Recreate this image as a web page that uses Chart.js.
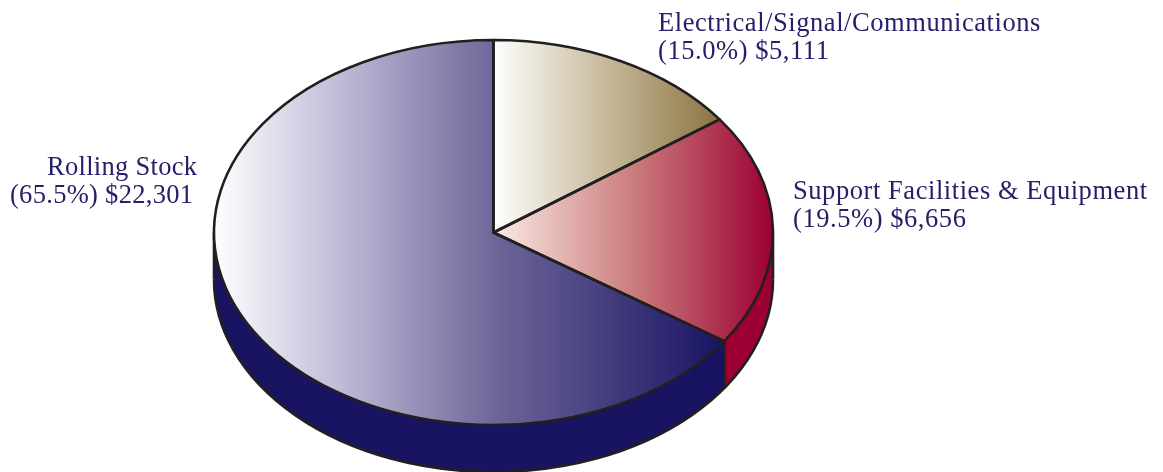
<!DOCTYPE html>
<html>
<head>
<meta charset="utf-8">
<title>Pie</title>
<style>
  html, body { margin: 0; padding: 0; background: #fff; }
  canvas { display: block; }
</style>
<script src="https://cdn.jsdelivr.net/npm/chart.js@4"></script>
</head>
<body>
<canvas id="pieChart" width="1163" height="472"></canvas>
<script>
// Chart data
const categories = ['Electrical/Signal/Communications', 'Support Facilities & Equipment', 'Rolling Stock'];
const amounts = [5111, 6656, 22301];
const percentLabels = ['(15.0%)', '(19.5%)', '(65.5%)'];
const amountLabels = ['$5,111', '$6,656', '$22,301'];

// Colors: fade stops for each slice, left to right
const fadeStops = [
    [[0, '#ffffff'], [0.4, '#d2c6ae'], [1, '#8b7440']],
    [[0, '#f9ebe5'], [0.5, '#cb7d7d'], [1, '#9c0033']],
    [[0, '#ffffff'], [0.27, '#b8b5d2'], [0.55, '#6e6699'], [1, '#181462']]
];
const sideColors = ['#8b7440', '#9c0033', '#181462'];
const outlineColor = '#231f20';
const textColor = '#262068';

// Layout
const radiusX = 279.5;
const squash = 192.5 / 279.5;
const depth = 47;
const outlineWidth = 2.6;
const labelLines = [
    [{ x: 658, y: 31 }, { x: 658, y: 59 }],
    [{ x: 793, y: 199 }, { x: 793, y: 227 }],
    [{ x: 47, y: 175 }, { x: 10, y: 203 }]
];
const labelSpacing = ['0.56px', '0.56px', '0.3px'];

function sliceAngles(index) {
    const total = amounts.reduce((a, b) => a + b, 0);
    let start = -Math.PI / 2;
    for (let i = 0; i < index; i++) start += amounts[i] / total * Math.PI * 2;
    return [start, start + amounts[index] / total * Math.PI * 2];
}

// Horizontal fade over the slice's own width
function sliceGradient(context) {
    const chart = context.chart;
    if (!chart.chartArea) return sideColors[context.dataIndex];
    const cx = (chart.chartArea.left + chart.chartArea.right) / 2;
    const [start, end] = sliceAngles(context.dataIndex);
    let minX = Math.min(0, Math.cos(start), Math.cos(end));
    let maxX = Math.max(0, Math.cos(start), Math.cos(end));
    if (start <= 0 && end >= 0) maxX = 1;
    if (start <= Math.PI && end >= Math.PI) minX = -1;
    const g = chart.ctx.createLinearGradient(cx + minX * radiusX, 0, cx + maxX * radiusX, 0);
    fadeStops[context.dataIndex].forEach(stop => g.addColorStop(stop[0], stop[1]));
    return g;
}

function wedgePath(ctx, arc, offsetY) {
    const ry = arc.outerRadius * squash;
    ctx.beginPath();
    ctx.moveTo(arc.x, arc.y + offsetY);
    ctx.ellipse(arc.x, arc.y + offsetY, arc.outerRadius, ry, 0, arc.startAngle, arc.endAngle);
    ctx.closePath();
}

// Flatten the pie and give it a rim
const tiltPlugin = {
    id: 'tilt',
    beforeDatasetsDraw(chart) {
        const ctx = chart.ctx;
        const arcs = chart.getDatasetMeta(0).data;
        const cx = arcs[0].x;
        const cy = arcs[0].y;
        const ry = arcs[0].outerRadius * squash;

        // rim, only the slices that reach the front
        ctx.save();
        arcs.forEach((arc, i) => {
            ctx.fillStyle = sideColors[i];
            for (let y = 1; y <= depth; y++) {
                wedgePath(ctx, arc, y);
                ctx.fill();
            }
        });
        ctx.strokeStyle = outlineColor;
        ctx.lineWidth = outlineWidth;
        ctx.beginPath();
        ctx.ellipse(cx, cy + depth, arcs[0].outerRadius, ry, 0, 0, Math.PI);
        ctx.stroke();
        ctx.beginPath();
        ctx.moveTo(cx - arcs[0].outerRadius, cy);
        ctx.lineTo(cx - arcs[0].outerRadius, cy + depth);
        ctx.moveTo(cx + arcs[0].outerRadius, cy);
        ctx.lineTo(cx + arcs[0].outerRadius, cy + depth);
        const seam = arcs[2].startAngle;
        const seamX = cx + Math.cos(seam) * arcs[0].outerRadius;
        const seamY = cy + Math.sin(seam) * ry;
        ctx.moveTo(seamX, seamY);
        ctx.lineTo(seamX, seamY + depth);
        ctx.stroke();
        ctx.restore();

        ctx.save();
        ctx.translate(cx, cy);
        ctx.scale(1, squash);
        ctx.translate(-cx, -cy);
    },
    afterDatasetsDraw(chart) {
        const ctx = chart.ctx;
        ctx.restore();

        const arcs = chart.getDatasetMeta(0).data;
        ctx.save();
        ctx.strokeStyle = outlineColor;
        ctx.lineWidth = outlineWidth;
        ctx.lineJoin = 'round';
        arcs.forEach(arc => {
            wedgePath(ctx, arc, 0);
            ctx.stroke();
        });
        ctx.restore();

        // labels
        ctx.save();
        ctx.fillStyle = textColor;
        ctx.font = '26.5px "Liberation Serif"';
        ctx.textAlign = 'left';
        ctx.textBaseline = 'alphabetic';
        categories.forEach((name, i) => {
            ctx.letterSpacing = labelSpacing[i];
            ctx.fillText(name, labelLines[i][0].x, labelLines[i][0].y);
            ctx.fillText(percentLabels[i] + ' ' + amountLabels[i], labelLines[i][1].x, labelLines[i][1].y);
        });
        ctx.restore();
    }
};

new Chart(document.getElementById('pieChart'), {
    type: 'pie',
    data: {
        labels: categories,
        datasets: [{
            data: amounts,
            backgroundColor: sliceGradient,
            borderWidth: 0
        }]
    },
    options: {
        responsive: false,
        animation: false,
        radius: radiusX,
        layout: { padding: { left: 0, right: 176, top: 0, bottom: 7 } },
        plugins: {
            legend: { display: false },
            tooltip: { enabled: false }
        }
    },
    plugins: [tiltPlugin]
});
</script>
</body>
</html>
